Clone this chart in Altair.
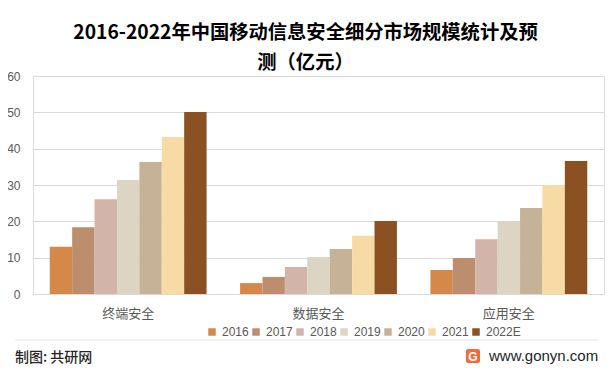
import altair as alt
import pandas as pd

categories = ["终端安全", "数据安全", "应用安全"]
years = ["2016", "2017", "2018", "2019", "2020", "2021", "2022E"]
terminal = [13.0, 18.4, 26.1, 31.4, 36.3, 43.2, 50.1]
data_sec = [3.0, 4.7, 7.4, 10.2, 12.4, 16.0, 20.1]
app_sec = [6.6, 9.9, 15.1, 20.1, 23.7, 29.9, 36.6]
colors = ["#D4894B", "#BC8E6E", "#D2B4A9", "#DDD5C3", "#C6B397", "#F8DBA4", "#8B5122"]

rows = []
for cat, vals in zip(categories, [terminal, data_sec, app_sec]):
    for y, v in zip(years, vals):
        rows.append({"category": cat, "year": y, "value": v})
df = pd.DataFrame(rows)

CJK = "Noto Sans CJK SC"

bars = alt.Chart(df).mark_bar().encode(
    x=alt.X("category:N", sort=categories,
            scale=alt.Scale(paddingInner=0.176, paddingOuter=0.088),
            axis=alt.Axis(title=None, labelAngle=0, ticks=False, labelPadding=13,
                          labelFontSize=13, labelColor="#595959", labelFont=CJK,
                          domainColor="#d9d9d9", grid=False)),
    xOffset=alt.XOffset("year:N", sort=years, scale=alt.Scale(paddingInner=0, paddingOuter=0)),
    y=alt.Y("value:Q", scale=alt.Scale(domain=[0, 60]),
            axis=alt.Axis(values=[0, 10, 20, 30, 40, 50, 60], title=None, ticks=False,
                          domain=False, gridColor="#d9d9d9", labelPadding=13,
                          labelFontSize=12, labelColor="#595959", labelFont="Liberation Sans")),
    color=alt.Color("year:N", sort=years, scale=alt.Scale(domain=years, range=colors),
                    legend=alt.Legend(title=None, orient="none", direction="horizontal",
                                      legendX=173, legendY=250, symbolType="square",
                                      symbolSize=56, symbolStrokeWidth=0, labelOffset=4,
                                      columnPadding=1, labelFontSize=12,
                                      labelColor="#595959", labelFont="Liberation Sans")),
)

credit = alt.Chart(pd.DataFrame({"t": ["制图: 共研网"]})).mark_text(
    align="left", baseline="middle", font=CJK, fontSize=14, fontWeight=500, color="#262626"
).encode(text="t:N", x=alt.value(-18), y=alt.value(282))

site = alt.Chart(pd.DataFrame({"t": ["www.gonyn.com"]})).mark_text(
    align="left", baseline="middle", font="Liberation Sans", fontSize=15, color="#262626"
).encode(text="t:N", x=alt.value(456), y=alt.value(280))

logo = alt.Chart(pd.DataFrame({"t": ["G"]})).mark_rect(
    color="#F26B3A", cornerRadius=2
).encode(x=alt.value(433), x2=alt.value(447), y=alt.value(273), y2=alt.value(287))

logo_g = alt.Chart(pd.DataFrame({"t": ["G"]})).mark_text(
    align="center", baseline="middle", font="Liberation Sans", fontSize=12,
    fontWeight="bold", color="white"
).encode(text="t:N", x=alt.value(440), y=alt.value(280.5))

sep = alt.Chart(pd.DataFrame({"t": [0]})).mark_rule(color="#e3e3e3", strokeWidth=1).encode(
    x=alt.value(-18), x2=alt.value(565), y=alt.value(264)
)

chart = alt.layer(bars, sep, credit, logo, logo_g, site).properties(
    width=571, height=218,
    padding={"left": 25, "top": 68, "right": 1, "bottom": 75},
    autosize=alt.AutoSizeParams(type="none"),
    title=alt.Title(
        text=["2016-2022年中国移动信息安全细分市场规模统计及预", "测（亿元）"],
        font=CJK, fontSize=19.3, fontWeight="bold", color="#000000",
        lineHeight=30, anchor="middle", dx=-13, dy=26, offset=4, baseline="bottom",
    ),
).configure_view(stroke=None).configure(background="white")

chart.save("out.html", embed_options={"renderer": "svg", "actions": False})
